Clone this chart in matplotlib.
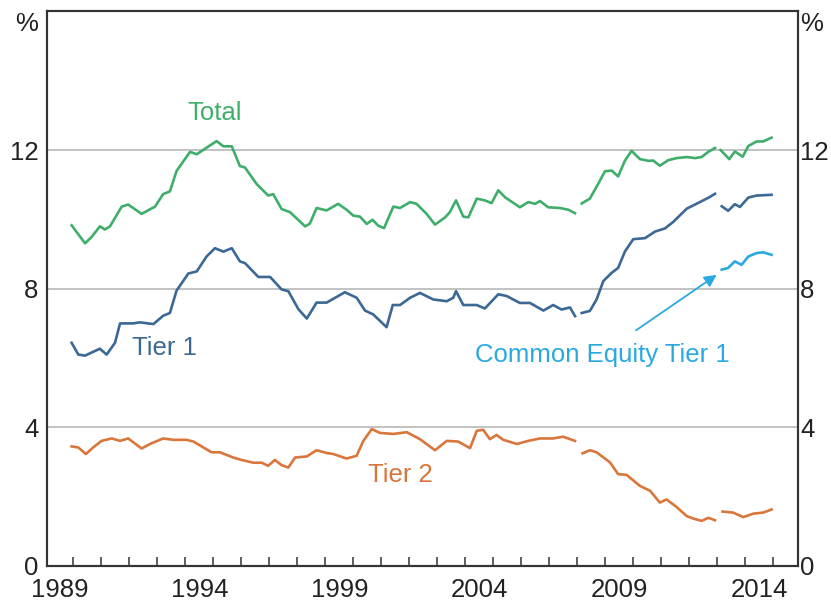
import numpy as np
import matplotlib
matplotlib.use("Agg")
import matplotlib.pyplot as plt

plt.rcParams['font.family'] = ['Liberation Sans', 'DejaVu Sans']

nan = np.nan

# values; nan marks a break in the series
total_x = [1989.94, 1990.42, 1990.66, 1990.95, 1991.13, 1991.31, 1991.73, 1991.96, 1992.44, 1992.92,
           1993.21, 1993.45, 1993.69, 1994.17, 1994.41, 1994.76, 1995.12, 1995.36, 1995.66, 1995.95,
           1996.13, 1996.55, 1996.96, 1997.14, 1997.44, 1997.74, 1998.28, 1998.45, 1998.69, 1999.05,
           1999.46, 1999.76, 2000.00, 2000.24, 2000.48, 2000.69, 2000.89, 2001.10, 2001.43, 2001.67,
           2002.03, 2002.26, 2002.62, 2002.92, 2003.28, 2003.45, 2003.67, 2003.93, 2004.11, 2004.41,
           2004.70, 2004.94, 2005.18, 2005.42, 2005.95, 2006.25, 2006.49, 2006.67, 2006.96, 2007.38,
           2007.68, 2007.92, 2008.04,
           2008.16, 2008.45, 2008.75, 2008.99, 2009.23, 2009.46, 2009.70, 2009.94, 2010.24, 2010.54,
           2010.71, 2010.95, 2011.25, 2011.55, 2011.91, 2012.20, 2012.44, 2012.68, 2012.92, 2013.02,
           2013.12, 2013.43, 2013.63, 2013.91, 2014.11, 2014.41, 2014.64, 2014.94]
total_y = [9.83, 9.31, 9.50, 9.80, 9.71, 9.80, 10.37, 10.43, 10.16, 10.37,
           10.73, 10.81, 11.40, 11.95, 11.88, 12.07, 12.26, 12.11, 12.11, 11.54,
           11.50, 11.02, 10.69, 10.73, 10.30, 10.21, 9.80, 9.88, 10.33, 10.26,
           10.45, 10.28, 10.11, 10.08, 9.87, 9.99, 9.82, 9.75, 10.37, 10.33,
           10.50, 10.45, 10.16, 9.85, 10.06, 10.21, 10.55, 10.08, 10.06, 10.60,
           10.55, 10.47, 10.84, 10.64, 10.35, 10.50, 10.45, 10.53, 10.35, 10.33,
           10.28, 10.18, nan,
           10.46, 10.60, 11.03, 11.39, 11.41, 11.24, 11.69, 11.98, 11.74, 11.69,
           11.70, 11.55, 11.71, 11.77, 11.80, 11.77, 11.80, 11.95, 12.06, nan,
           12.00, 11.74, 11.96, 11.81, 12.12, 12.25, 12.25, 12.36]

tier1_x = [1989.94, 1990.18, 1990.42, 1990.95, 1991.19, 1991.49, 1991.67, 1992.14, 1992.38, 1992.86,
           1993.21, 1993.45, 1993.69, 1994.11, 1994.41, 1994.76, 1995.06, 1995.36, 1995.66, 1995.95,
           1996.13, 1996.61, 1997.03, 1997.44, 1997.68, 1998.04, 1998.34, 1998.69, 1999.05, 1999.70,
           2000.12, 2000.42, 2000.71, 2001.19, 2001.41, 2001.67, 2002.03, 2002.38, 2002.86, 2003.34,
           2003.57, 2003.67, 2003.93, 2004.41, 2004.70, 2005.18, 2005.48, 2005.95, 2006.31, 2006.79,
           2007.14, 2007.44, 2007.74, 2007.92, 2008.04,
           2008.16, 2008.45, 2008.69, 2008.93, 2009.23, 2009.46, 2009.70, 2010.00, 2010.42, 2010.78,
           2011.13, 2011.43, 2011.91, 2012.38, 2012.74, 2012.92, 2013.04,
           2013.16, 2013.39, 2013.63, 2013.81, 2014.11, 2014.41, 2014.94]
tier1_y = [6.44, 6.10, 6.07, 6.27, 6.10, 6.44, 7.00, 7.00, 7.03, 6.98,
           7.22, 7.30, 7.95, 8.44, 8.50, 8.93, 9.17, 9.07, 9.17, 8.79,
           8.74, 8.34, 8.34, 7.98, 7.93, 7.41, 7.14, 7.60, 7.60, 7.90,
           7.74, 7.37, 7.26, 6.89, 7.53, 7.53, 7.74, 7.88, 7.69, 7.64,
           7.74, 7.93, 7.53, 7.53, 7.43, 7.84, 7.79, 7.59, 7.59, 7.37,
           7.53, 7.40, 7.46, 7.21, nan,
           7.30, 7.36, 7.69, 8.22, 8.46, 8.60, 9.07, 9.43, 9.46, 9.65,
           9.74, 9.93, 10.31, 10.50, 10.65, 10.74, nan,
           10.38, 10.25, 10.44, 10.36, 10.63, 10.69, 10.71]

cet1_x = [2013.16, 2013.39, 2013.63, 2013.87, 2014.11, 2014.41, 2014.64, 2014.94]
cet1_y = [8.55, 8.60, 8.79, 8.69, 8.93, 9.03, 9.05, 8.98]

tier2_x = [1989.94, 1990.18, 1990.45, 1990.71, 1991.01, 1991.37, 1991.67, 1991.96, 1992.44, 1992.74,
           1993.21, 1993.57, 1994.05, 1994.29, 1994.94, 1995.24, 1995.71, 1996.01, 1996.43, 1996.73,
           1996.96, 1997.20, 1997.44, 1997.68, 1997.92, 1998.34, 1998.69, 1999.05, 1999.29, 1999.76,
           2000.12, 2000.36, 2000.66, 2000.95, 2001.43, 2001.91, 2002.38, 2002.92, 2003.34, 2003.75,
           2004.17, 2004.41, 2004.64, 2004.88, 2005.12, 2005.36, 2005.84, 2006.25, 2006.67, 2007.14,
           2007.50, 2007.92, 2008.05,
           2008.19, 2008.45, 2008.69, 2009.17, 2009.46, 2009.76, 2010.24, 2010.60, 2010.95, 2011.19,
           2011.55, 2011.91, 2012.14, 2012.44, 2012.68, 2012.92, 2013.05,
           2013.19, 2013.57, 2013.93, 2014.29, 2014.64, 2014.94]
tier2_y = [3.45, 3.42, 3.23, 3.42, 3.61, 3.68, 3.61, 3.68, 3.39, 3.52,
           3.68, 3.64, 3.64, 3.59, 3.28, 3.28, 3.13, 3.06, 2.98, 2.98,
           2.89, 3.06, 2.91, 2.84, 3.13, 3.16, 3.34, 3.26, 3.23, 3.10,
           3.18, 3.61, 3.95, 3.84, 3.81, 3.86, 3.66, 3.34, 3.61, 3.59,
           3.40, 3.90, 3.93, 3.66, 3.78, 3.64, 3.52, 3.61, 3.68, 3.68,
           3.73, 3.61, nan,
           3.25, 3.34, 3.28, 2.99, 2.65, 2.63, 2.31, 2.17, 1.83, 1.92,
           1.70, 1.44, 1.37, 1.30, 1.39, 1.32, nan,
           1.57, 1.54, 1.41, 1.51, 1.54, 1.63]

year_labels = ['1989', '1994', '1999', '2004', '2009', '2014']
y_ticks = [0, 4, 8, 12]

c_total = '#3fae6b'
c_tier1 = '#3b6894'
c_tier2 = '#d9763c'
c_cet1 = '#2aa9e0'
c_axis = '#333333'
c_text = '#222222'
fs = 18.5

fig = plt.figure(figsize=(8.31, 6.05), dpi=100)
ax = fig.add_axes([0.0562, 0.0645, 0.9036, 0.9165])

for yv in y_ticks[1:]:
    ax.axhline(yv, color='#b8b8b8', lw=1.2, zorder=1)

ax.plot(total_x, total_y, color=c_total, lw=1.9, zorder=3)
ax.plot(tier1_x, tier1_y, color=c_tier1, lw=1.9, zorder=3)
ax.plot(tier2_x, tier2_y, color=c_tier2, lw=1.9, zorder=3)
ax.plot(cet1_x, cet1_y, color=c_cet1, lw=1.9, zorder=3)

ax.set_xlim(1989.05, 2015.87)
ax.set_ylim(0, 16)

# year ticks on the bottom, labels centred mid-year
ax.set_xticks(np.arange(1990, 2016))
ax.set_xticklabels([])
ax.set_xticks([int(y) + 0.5 for y in year_labels], minor=True)
ax.set_xticklabels(year_labels, minor=True)
ax.tick_params(axis='x', which='major', direction='in', length=6.5, width=1.1, color=c_axis)
ax.tick_params(axis='x', which='minor', length=0, pad=9, labelsize=fs, labelcolor=c_text)

ax.set_yticks(y_ticks)
ax.set_yticklabels([str(v) for v in y_ticks])
ax.tick_params(axis='y', length=0, pad=6, labelsize=fs, labelcolor=c_text)

# right-hand scale, sits closer to the frame
ax2 = ax.twinx()
ax2.set_ylim(0, 16)
ax2.set_yticks(y_ticks)
ax2.set_yticklabels([str(v) for v in y_ticks])
ax2.tick_params(axis='y', length=0, pad=2, labelsize=fs, labelcolor=c_text)

for a in (ax, ax2):
    for sp in a.spines.values():
        sp.set_color(c_axis)
        sp.set_linewidth(1.5)

ax.text(-0.012, 0.978, '%', transform=ax.transAxes, ha='right', va='center',
        fontsize=fs, color=c_text)
ax.text(1.003, 0.978, '%', transform=ax.transAxes, ha='left', va='center',
        fontsize=fs, color=c_text)

ax.text(1995.06, 13.07, 'Total', color=c_total, fontsize=fs, ha='center', va='center')
ax.text(1993.27, 6.29, 'Tier 1', color=c_tier1, fontsize=fs, ha='center', va='center')
ax.text(2001.67, 2.63, 'Tier 2', color=c_tier2, fontsize=fs, ha='center', va='center')
ax.text(2008.9, 6.09, 'Common Equity Tier 1', color=c_cet1, fontsize=fs, ha='center', va='center')
ax.annotate('', xy=(2012.98, 8.4), xytext=(2010.1, 6.8),
            arrowprops=dict(arrowstyle='-|>', color=c_cet1, lw=1.3, mutation_scale=18,
                            shrinkA=0, shrinkB=0))

fig.savefig('out.png', dpi=100)
